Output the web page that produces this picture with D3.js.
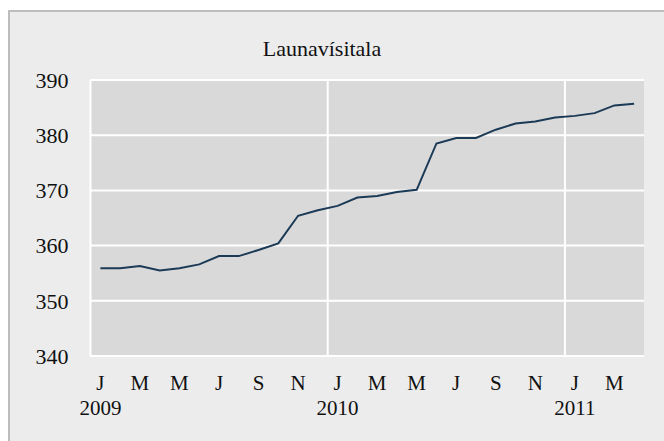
<!DOCTYPE html>
<html>
<head>
<meta charset="utf-8">
<script src="https://cdn.jsdelivr.net/npm/d3@7"></script>
<style>
  body { margin: 0; background: #fff; }
  text { font-family: "Liberation Serif", "Times New Roman", serif; fill: #111; }
</style>
</head>
<body>
<script>
var title = 'Launavísitala';

// Jan 2009 .. Apr 2011
var months = ['2009-01','2009-02','2009-03','2009-04','2009-05','2009-06','2009-07','2009-08','2009-09','2009-10','2009-11','2009-12',
  '2010-01','2010-02','2010-03','2010-04','2010-05','2010-06','2010-07','2010-08','2010-09','2010-10','2010-11','2010-12',
  '2011-01','2011-02','2011-03','2011-04'];
var values = [355.9, 355.9, 356.3, 355.5, 355.9, 356.6, 358.1, 358.1, 359.2, 360.4, 365.4, 366.4,
  367.2, 368.7, 369.0, 369.7, 370.1, 378.5, 379.5, 379.5, 381.0, 382.1, 382.5, 383.2,
  383.5, 384.0, 385.4, 385.7];
var monthLetters = ['J','F','M','A','M','J','J','A','S','O','N','D'];
var yTicks = [340, 350, 360, 370, 380, 390];

var W = 664, H = 441;
var margin = {top: 80, right: 20, bottom: 85, left: 90.5};
var width = 644 - margin.left, height = 356 - margin.top;

var svg = d3.select('body').append('svg')
  .attr('width', W)
  .attr('height', H);

// outer frame: grey edge top and left only
svg.append('rect').attr('x', 8).attr('y', 10).attr('width', W).attr('height', H).attr('fill', '#bdbdbd');
svg.append('rect').attr('x', 10).attr('y', 12).attr('width', W).attr('height', H).attr('fill', '#ececec');

svg.append('text')
  .attr('x', 322)
  .attr('y', 56)
  .attr('text-anchor', 'middle')
  .style('font-size', '22px')
  .text(title);

var g = svg.append('g')
  .attr('transform', 'translate(' + margin.left + ',' + margin.top + ')');

var x = d3.scaleBand().domain(months).range([0, width]);
var y = d3.scaleLinear().domain([340, 390]).range([height, 0]);

g.append('rect')
  .attr('width', width)
  .attr('height', height)
  .attr('fill', '#d9d9d9');

// horizontal grid
g.selectAll('.hgrid')
  .data(yTicks)
  .enter().append('line')
  .attr('x1', 0).attr('x2', width)
  .attr('y1', function(d) { return y(d); })
  .attr('y2', function(d) { return y(d); })
  .attr('stroke', '#fff')
  .attr('stroke-width', 2);

// vertical grid at year boundaries
var yearStarts = months.filter(function(m) { return m.slice(5) === '01' && m !== months[0]; });
g.selectAll('.vgrid')
  .data(yearStarts)
  .enter().append('line')
  .attr('x1', function(d) { return x(d); })
  .attr('x2', function(d) { return x(d); })
  .attr('y1', 0).attr('y2', height)
  .attr('stroke', '#fff')
  .attr('stroke-width', 2);

g.append('line')
  .attr('x1', 0).attr('x2', 0)
  .attr('y1', 0).attr('y2', height)
  .attr('stroke', '#fff')
  .attr('stroke-width', 2);

// y labels
g.selectAll('.ylab')
  .data(yTicks)
  .enter().append('text')
  .attr('x', -22)
  .attr('y', function(d) { return y(d); })
  .attr('dy', '0.35em')
  .attr('text-anchor', 'end')
  .style('font-size', '22px')
  .text(function(d) { return d; });

// month labels every other month
var shown = months.filter(function(m, i) { return i % 2 === 0; });
g.selectAll('.xlab')
  .data(shown)
  .enter().append('text')
  .attr('x', function(d) { return x(d) + x.bandwidth() / 2; })
  .attr('y', 390 - margin.top)
  .attr('text-anchor', 'middle')
  .style('font-size', '21px')
  .text(function(d) { return monthLetters[+d.slice(5) - 1]; });

g.selectAll('.yearlab')
  .data(months.filter(function(m) { return m.slice(5) === '01'; }))
  .enter().append('text')
  .attr('x', function(d) { return x(d) + x.bandwidth() / 2; })
  .attr('y', 415 - margin.top)
  .attr('text-anchor', 'middle')
  .style('font-size', '21px')
  .text(function(d) { return d.slice(0, 4); });

var line = d3.line()
  .x(function(d, i) { return x(months[i]) + x.bandwidth() / 2; })
  .y(function(d) { return y(d); });

g.append('path')
  .datum(values)
  .attr('fill', 'none')
  .attr('stroke', '#1b3a56')
  .attr('stroke-width', 2)
  .attr('d', line);
</script>
</body>
</html>
